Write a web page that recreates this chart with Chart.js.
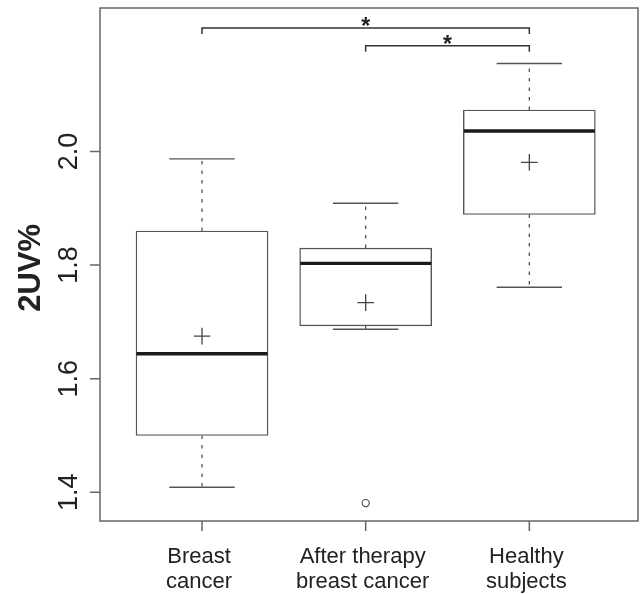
<!DOCTYPE html>
<html>
<head>
<meta charset="utf-8">
<script src="https://cdn.jsdelivr.net/npm/chart.js@4.4.0/dist/chart.umd.min.js"></script>
<style>
  html, body { margin: 0; padding: 0; background: #fff; }
  #wrap { width: 640px; height: 594px; }
</style>
</head>
<body>
<div id="wrap"><canvas id="chart" width="640" height="594"></canvas></div>
<script>
// groups on the x axis (boxes sit at x = 1, 2, 3)
var groups = [['Breast', 'cancer'], ['After therapy', 'breast cancer'], ['Healthy', 'subjects']];

// box statistics
var whiskerLow  = [1.409, 1.687, 1.761];
var quartile1   = [1.500, 1.693, 1.889];
var medians     = [1.644, 1.803, 2.036];
var quartile3   = [1.860, 1.830, 2.073];
var whiskerHigh = [1.987, 1.909, 2.155];
var means       = [1.675, 1.734, 1.981];
// outliers as [group index, value]
var outliers    = [[1, 1.381]];

var yTicks = [1.4, 1.6, 1.8, 2.0];
var yTitle = '2UV%';

// significance brackets as [from group, to group, level]
var brackets = [[0, 2, 2.2175], [1, 2, 2.186]];
var bracketLabel = '*';

// axis limits
var yMin = 1.3495, yMax = 2.2526;
var xMin = 0.3767, xMax = 3.664;

var FONT = '"Liberation Sans", Arial, sans-serif';

function at(values) {
    return values.map(function (v, i) { return {x: i + 1, y: v}; });
}

var whiskerData = [];
groups.forEach(function (g, i) {
    whiskerData.push({x: i + 1, y: quartile3[i]}, {x: i + 1, y: whiskerHigh[i]}, {x: i + 1, y: NaN});
    whiskerData.push({x: i + 1, y: quartile1[i]}, {x: i + 1, y: whiskerLow[i]}, {x: i + 1, y: NaN});
});

// axes, frame, labels and brackets drawn R style
var rFrame = {
    id: 'rFrame',
    afterDraw: function (chart) {
        var ctx = chart.ctx;
        var area = chart.chartArea;
        var xs = chart.scales.x;
        var ys = chart.scales.y;
        ctx.save();

        ctx.strokeStyle = '#666';
        ctx.lineWidth = 1.5;
        ctx.strokeRect(area.left, area.top, area.right - area.left, area.bottom - area.top);
        ctx.beginPath();
        yTicks.forEach(function (v) {
            var y = ys.getPixelForValue(v);
            ctx.moveTo(area.left - 10, y);
            ctx.lineTo(area.left, y);
        });
        groups.forEach(function (g, i) {
            var x = xs.getPixelForValue(i + 1);
            ctx.moveTo(x, area.bottom);
            ctx.lineTo(x, area.bottom + 10);
        });
        ctx.stroke();

        ctx.fillStyle = '#222';
        ctx.textAlign = 'center';
        ctx.textBaseline = 'middle';
        ctx.font = '27px ' + FONT;
        yTicks.forEach(function (v) {
            ctx.save();
            ctx.translate(area.left - 30, ys.getPixelForValue(v));
            ctx.rotate(-Math.PI / 2);
            ctx.fillText(v.toFixed(1), 0, 0);
            ctx.restore();
        });

        ctx.font = 'bold 31px ' + FONT;
        ctx.save();
        ctx.translate(31, (ys.getPixelForValue(1.4) + ys.getPixelForValue(2.0)) / 2 - 54);
        ctx.rotate(-Math.PI / 2);
        ctx.fillText(yTitle, 0, 0);
        ctx.restore();

        ctx.font = '22px ' + FONT;
        groups.forEach(function (lines, i) {
            var x = xs.getPixelForValue(i + 1) - 3;
            lines.forEach(function (t, k) {
                ctx.fillText(t, x, area.bottom + 36 + k * 25);
            });
        });

        ctx.strokeStyle = '#333';
        ctx.lineWidth = 1.5;
        ctx.textBaseline = 'alphabetic';
        ctx.font = 'bold 23px ' + FONT;
        brackets.forEach(function (b) {
            var x1 = xs.getPixelForValue(b[0] + 1);
            var x2 = xs.getPixelForValue(b[1] + 1);
            var y = ys.getPixelForValue(b[2]);
            ctx.beginPath();
            ctx.moveTo(x1, y + 6);
            ctx.lineTo(x1, y);
            ctx.lineTo(x2, y);
            ctx.lineTo(x2, y + 6);
            ctx.stroke();
            ctx.fillText(bracketLabel, (x1 + x2) / 2, y + 6);
        });

        ctx.restore();
    }
};

new Chart(document.getElementById('chart'), {
    type: 'bar',
    data: {
        datasets: [{
            type: 'bar',
            label: 'box',
            data: groups.map(function (g, i) { return {x: i + 1, y: [quartile1[i], quartile3[i]]}; }),
            backgroundColor: '#fff',
            borderColor: '#555',
            borderWidth: 1.4,
            borderSkipped: false,
            barThickness: 132,
            order: 5
        }, {
            type: 'line',
            label: 'whiskers',
            data: whiskerData,
            borderColor: '#555',
            borderWidth: 1.3,
            borderDash: [3.5, 6],
            pointRadius: 0,
            spanGaps: false,
            order: 4
        }, {
            type: 'scatter',
            label: 'caps',
            data: at(whiskerHigh).concat(at(whiskerLow)),
            pointStyle: 'line',
            pointRadius: 32.7,
            borderColor: '#555',
            borderWidth: 1.4,
            order: 3
        }, {
            type: 'scatter',
            label: 'median',
            data: at(medians),
            pointStyle: 'line',
            pointRadius: 65.5,
            borderColor: '#1a1a1a',
            borderWidth: 3.4,
            order: 2
        }, {
            type: 'scatter',
            label: 'mean',
            data: at(means),
            pointStyle: 'cross',
            pointRadius: 8.3,
            borderColor: '#444',
            borderWidth: 1.3,
            order: 1
        }, {
            type: 'scatter',
            label: 'outliers',
            data: outliers.map(function (o) { return {x: o[0] + 1, y: o[1]}; }),
            pointStyle: 'circle',
            pointRadius: 3.6,
            backgroundColor: '#fff',
            borderColor: '#444',
            borderWidth: 1.1,
            order: 1
        }]
    },
    options: {
        responsive: false,
        animation: false,
        events: [],
        layout: {autoPadding: false, padding: {left: 100, top: 8, right: 2, bottom: 73}},
        plugins: {legend: {display: false}, tooltip: {enabled: false}},
        scales: {
            x: {type: 'linear', min: xMin, max: xMax, offset: false, display: false},
            y: {type: 'linear', min: yMin, max: yMax, display: false}
        }
    },
    plugins: [rFrame]
});
</script>
</body>
</html>
